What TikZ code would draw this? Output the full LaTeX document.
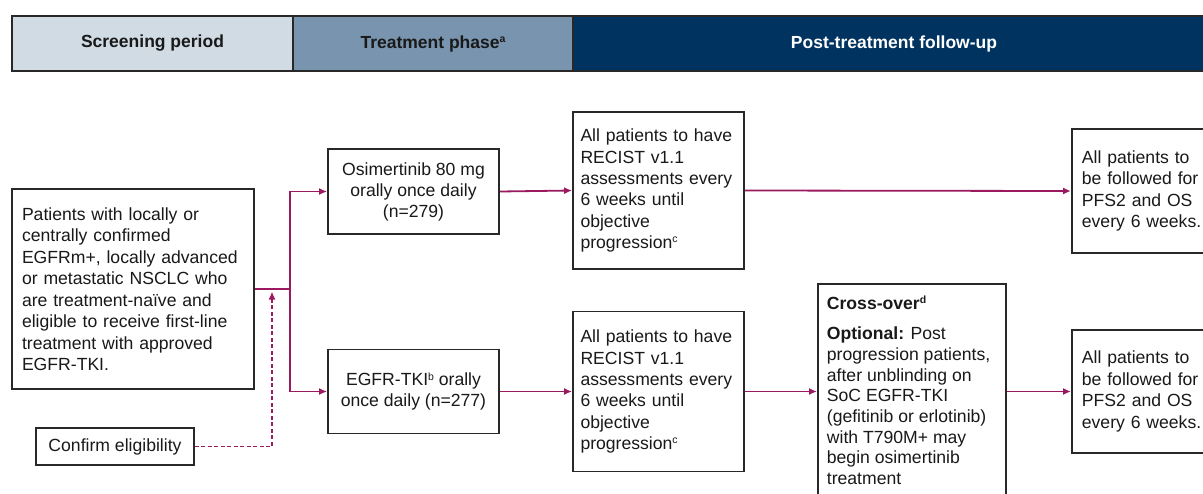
\documentclass[tikz,border=0pt]{standalone}
\usepackage{fontspec}
\setmainfont{Liberation Sans}
\usetikzlibrary{arrows.meta}
\definecolor{scrfill}{RGB}{209,219,228}
\definecolor{trtfill}{RGB}{120,148,174}
\definecolor{postfill}{RGB}{0,51,96}
\definecolor{arrowc}{RGB}{155,25,95}
\definecolor{boxline}{RGB}{40,40,40}
\definecolor{txt}{RGB}{25,25,25}
\newcommand\supmark[1]{\raisebox{0.6ex}{\fontsize{10.5}{10.5}\selectfont #1}}
\begin{document}
\begin{tikzpicture}[x=1pt,y=-1pt,
  hdr/.style={draw=boxline,line width=1.8pt,minimum height=55pt,inner sep=0pt,
    font=\fontsize{17.5}{21}\selectfont\bfseries,text=txt},
  box/.style={draw=boxline,line width=1.8pt,inner ysep=0pt,fill=white,
    font=\fontsize{17.6}{21.5}\selectfont,text=txt},
  flow/.style={draw=arrowc,line width=1.8pt,-{Latex[length=8pt,width=7pt]}},
  plainflow/.style={draw=arrowc,line width=1.8pt},
  dashflow/.style={draw=arrowc,line width=1.8pt,dash pattern=on 4pt off 2.5pt,-{Latex[length=8pt,width=7pt]}}
]
\useasboundingbox (0,0) rectangle (1203,493);
\clip (0,0) rectangle (1203,493);
\fill[white] (0,0) rectangle (1203,493);

% header
\node[hdr,fill=scrfill,minimum width=281pt] (scr) at (152.5,43.5) {Screening period};
\node[hdr,fill=trtfill,minimum width=280pt] (trt) at (433,43.5) {Treatment phase\supmark{a}};
\node[hdr,fill=postfill,text=white,minimum width=642pt] (post) at (894,43.5) {Post-treatment follow-up};

% boxes
\node[box,minimum width=242pt,minimum height=200pt,text width=222pt,inner xsep=10pt,align=left] (main) at (133,289)
  {Patients with locally or\\ centrally confirmed\\ EGFRm+, locally advanced\\ or metastatic NSCLC who\\ are treatment-naïve and\\ eligible to receive first-line\\ treatment with approved\\ EGFR-TKI.};
\node[box,minimum width=158pt,minimum height=37pt] (conf) at (115,446.5) {Confirm eligibility};

\node[box,minimum width=171pt,minimum height=85pt,align=center,font=\fontsize{17.6}{21}\selectfont] (osi) at (413.5,191.5)
  {Osimertinib 80 mg\\ orally once daily\\ (n=279)};
\node[box,minimum width=171pt,minimum height=84pt,align=center,font=\fontsize{17.6}{21}\selectfont] (egfr) at (413.5,391.5)
  {EGFR-TKI\supmark{b} orally\\ once daily (n=277)};

\node[box,minimum width=171pt,minimum height=157pt,text width=156pt,inner xsep=7.5pt,align=left,font=\fontsize{17.6}{21.3}\selectfont] (rec1) at (658.5,190.5)
  {All patients to have\\ RECIST v1.1\\ assessments every\\ 6 weeks until\\ objective\\ progression\supmark{c}};
\node[box,minimum width=171pt,minimum height=160pt,text width=156pt,inner xsep=7.5pt,align=left,font=\fontsize{17.6}{21.3}\selectfont] (rec2) at (658.5,391.5)
  {All patients to have\\ RECIST v1.1\\ assessments every\\ 6 weeks until\\ objective\\ progression\supmark{c}};

\node[box,anchor=north west,inner xsep=9pt,inner ysep=12pt,align=left] (cross) at (817,283)
  {\begin{minipage}[t][250pt][t]{170pt}\fontsize{17.6}{20.7}\selectfont
   \textbf{Cross-over\supmark{d}}\par\vspace{10pt}
   \textbf{Optional:} Post\\ progression patients,\\ after unblinding on\\ SoC EGFR-TKI\\ (gefitinib or erlotinib)\\ with T790M+ may\\ begin osimertinib\\ treatment
   \end{minipage}};

\node[box,anchor=west,minimum height=124pt,text width=136pt,inner xsep=10pt,align=left] (r1) at (1071,191)
  {All patients to\\ be followed for\\ PFS2 and OS\\ every 6 weeks.};
\node[box,anchor=west,minimum height=123pt,text width=136pt,inner xsep=10pt,align=left] (r2) at (1071,391.5)
  {All patients to\\ be followed for\\ PFS2 and OS\\ every 6 weeks.};

% connectors
\coordinate (j) at (290,289);
\coordinate (dtip) at (272,291.5);
\draw[plainflow] (main.east) -- (j);
\draw[flow] (j) |- (osi.west);
\draw[flow] (j) |- (egfr.west);
\draw[dashflow] (conf.east) -| (dtip);
\draw[flow] (osi.east) -- (rec1.west);
\draw[flow] (rec1.east) -- (r1.west);
\draw[flow] (egfr.east) -- (rec2.west);
\draw[flow] (rec2.east) -- (rec2.east -| cross.west);
\draw[flow] (cross.east |- r2.west) -- (r2.west);
\end{tikzpicture}
\end{document}
